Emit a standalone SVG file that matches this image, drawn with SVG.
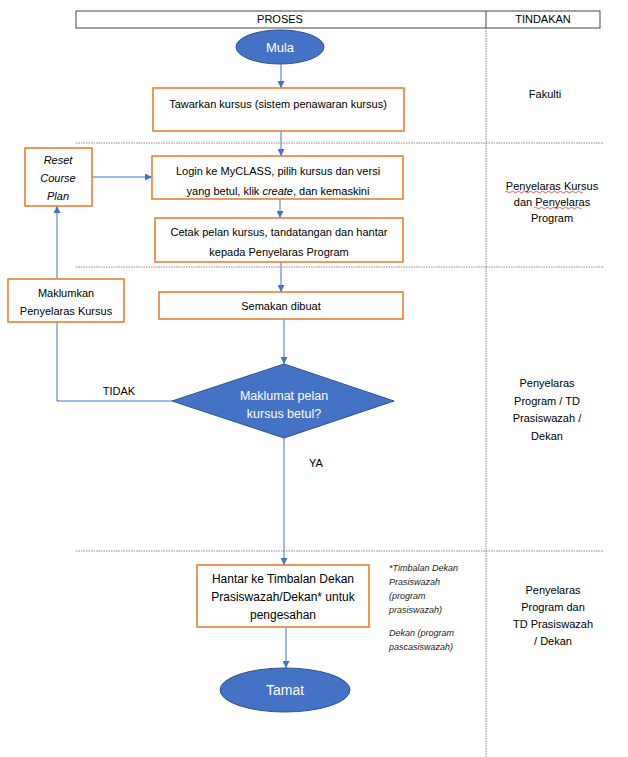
<svg xmlns="http://www.w3.org/2000/svg" width="628" height="757" viewBox="0 0 628 757">
<defs>
<marker id="arr" viewBox="0 0 10 10" refX="10" refY="5" markerWidth="7" markerHeight="7" markerUnits="userSpaceOnUse" orient="auto">
<path d="M0,0 L10,5 L0,10 z" fill="#4472C4"/>
</marker>
<style>
text{font-family:"Liberation Sans",Arial,sans-serif;font-size:11px;fill:#000;text-anchor:middle}
.w{fill:#fff;font-size:13px}
.i{font-style:italic}
.n{font-style:italic;font-size:9px;text-anchor:start;fill:#222}
.box{fill:#fff;stroke:#ED7D31;stroke-width:1.6}
.term{fill:#4472C4;stroke:#2F528F;stroke-width:1}
.grid{stroke:#888;stroke-width:1;stroke-dasharray:1.5 1;fill:none}
.c{stroke:#4472C4;stroke-width:1;fill:none}
.sq{stroke:#E03030;stroke-width:0.8;fill:none}
</style>
</defs>
<rect width="628" height="757" fill="#fff"/>
<g id="table">
<rect x="76" y="11" width="524" height="17" fill="#fff" stroke="#444" stroke-width="1"/>
<line x1="486" y1="11" x2="486" y2="28" stroke="#444" stroke-width="1"/>
<text x="280" y="23">PROSES</text>
<text x="543" y="23">TINDAKAN</text>
<line class="grid" x1="486" y1="28" x2="486" y2="757"/>
<line class="grid" x1="76" y1="143" x2="604" y2="143"/>
<line class="grid" x1="76" y1="267" x2="604" y2="267"/>
<line class="grid" x1="76" y1="551" x2="604" y2="551"/>
</g>
<g id="connectors">
<line class="c" x1="281" y1="64" x2="281" y2="88" marker-end="url(#arr)"/>
<line class="c" x1="281" y1="131" x2="281" y2="156" marker-end="url(#arr)"/>
<line class="c" x1="280" y1="199" x2="280" y2="218" marker-end="url(#arr)"/>
<line class="c" x1="281" y1="262" x2="281" y2="292" marker-end="url(#arr)"/>
<line class="c" x1="284" y1="319" x2="284" y2="364" marker-end="url(#arr)"/>
<polyline class="c" points="172,401 57,401 57,322"/>
<line class="c" x1="57" y1="279" x2="57" y2="206" marker-end="url(#arr)"/>
<line class="c" x1="92" y1="177" x2="152" y2="177" marker-end="url(#arr)"/>
<line class="c" x1="284" y1="438" x2="284" y2="565" marker-end="url(#arr)"/>
<line class="c" x1="286" y1="627" x2="286" y2="668" marker-end="url(#arr)"/>
<text x="119" y="395">TIDAK</text>
<text x="316" y="467">YA</text>
</g>
<g id="mula">
<ellipse class="term" cx="280" cy="47" rx="44" ry="17"/>
<text class="w" x="280" y="52">Mula</text>
</g>
<g id="tawarkan">
<rect class="box" x="153" y="88" width="251" height="43"/>
<text x="278" y="108">Tawarkan kursus (sistem penawaran kursus)</text>
</g>
<g id="login">
<rect class="box" x="152" y="156" width="251" height="43"/>
<text x="278" y="175">Login ke MyCLASS, pilih kursus dan versi</text>
<text x="278" y="195">yang betul, klik <tspan class="i">create</tspan>, dan kemaskini</text>
</g>
<g id="cetak">
<rect class="box" x="155" y="218" width="248" height="44"/>
<text x="279" y="236">Cetak pelan kursus, tandatangan dan hantar</text>
<text x="279" y="256">kepada Penyelaras Program</text>
</g>
<g id="semakan">
<rect class="box" x="159" y="292" width="244" height="27"/>
<text x="281" y="310">Semakan dibuat</text>
</g>
<g id="keputusan">
<polygon points="284,364 394,401 284,438 172,401" fill="#4472C4" stroke="#2F528F" stroke-width="1"/>
<text class="w" x="284" y="400" style="font-size:12.5px">Maklumat pelan</text>
<text class="w" x="284" y="418" style="font-size:12.5px">kursus betul?</text>
</g>
<g id="maklumkan">
<rect class="box" x="8" y="279" width="116" height="43"/>
<text x="66" y="297">Maklumkan</text>
<text x="66" y="315">Penyelaras Kursus</text>
</g>
<g id="reset">
<rect class="box" x="25" y="148" width="67" height="58"/>
<text class="i" x="58" y="164">Reset</text>
<text class="i" x="58" y="182">Course</text>
<text class="i" x="58" y="200">Plan</text>
</g>
<g id="hantar">
<rect class="box" x="197" y="565" width="172" height="62"/>
<text x="283" y="583" style="font-size:12px">Hantar ke Timbalan Dekan</text>
<text x="283" y="601" style="font-size:12px">Prasiswazah/Dekan* untuk</text>
<text x="283" y="619" style="font-size:12px">pengesahan</text>
</g>
<g id="tamat">
<ellipse class="term" cx="285" cy="690" rx="65" ry="22"/>
<text class="w" x="285" y="695" style="font-size:14px">Tamat</text>
</g>
<g id="nota">
<text class="n" x="389" y="571">*Timbalan Dekan</text>
<text class="n" x="389" y="585">Prasiswazah</text>
<text class="n" x="389" y="599">(program</text>
<text class="n" x="389" y="613">prasiswazah)</text>
<text class="n" x="389" y="636">Dekan (program</text>
<text class="n" x="389" y="650">pascasiswazah)</text>
</g>
<g id="tindakan">
<text x="545" y="98">Fakulti</text>
<text x="552" y="190">Penyelaras Kursus</text>
<text x="552" y="206">dan Penyelaras</text>
<text x="552" y="222">Program</text>
<path class="sq" d="M505,192 q1.5,-1.5 3,0 t3,0 t3,0 t3,0 t3,0 t3,0 t3,0 t3,0 t3,0 t3,0 t3,0 t3,0 t3,0 t3,0 t3,0 t3,0 t3,0 t3,0 t3,0 t3,0 t3,0 t3,0 t3,0 t3,0 t3,0 t3,0"/>
<path class="sq" d="M534,208 q1.5,-1.5 3,0 t3,0 t3,0 t3,0 t3,0 t3,0 t3,0 t3,0 t3,0 t3,0 t3,0 t3,0 t3,0 t3,0 t3,0 t3,0"/>
<text x="547" y="387">Penyelaras</text>
<text x="547" y="405">Program / TD</text>
<text x="547" y="422">Prasiswazah /</text>
<text x="547" y="440">Dekan</text>
<text x="553" y="594">Penyelaras</text>
<text x="553" y="611">Program dan</text>
<text x="553" y="628">TD Prasiswazah</text>
<text x="553" y="645">/ Dekan</text>
</g>
</svg>
